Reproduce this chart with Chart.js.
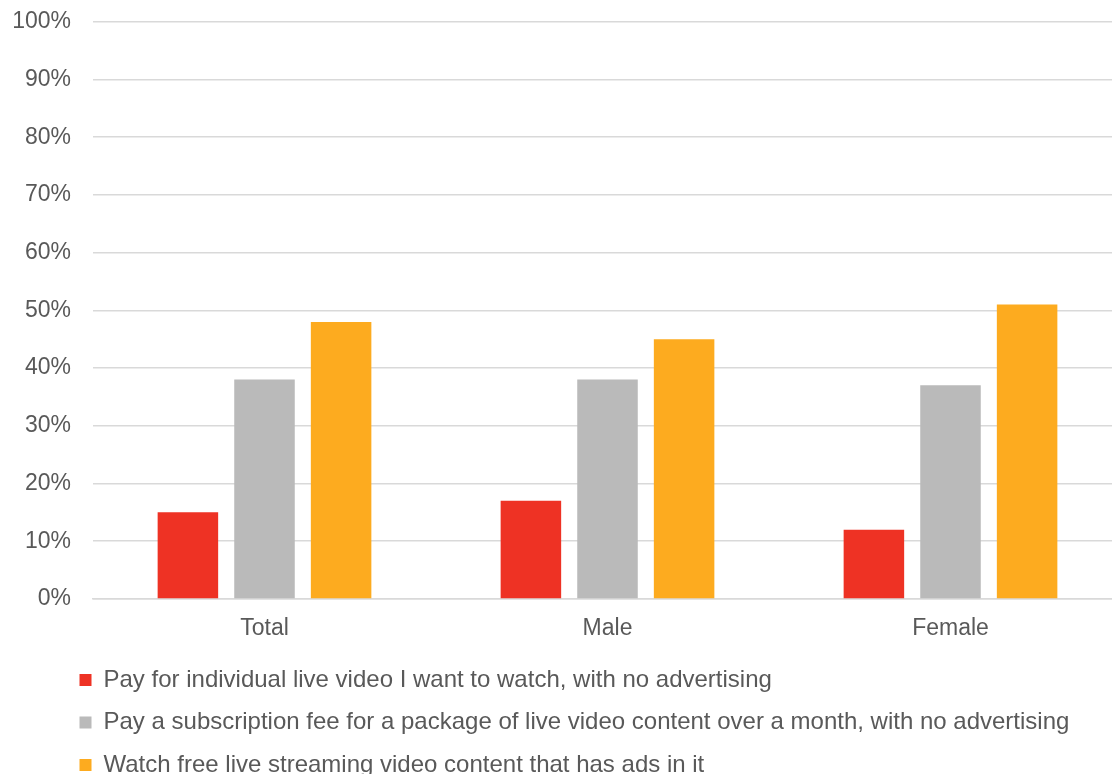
<!DOCTYPE html>
<html>
<head>
<meta charset="utf-8">
<script src="https://cdn.jsdelivr.net/npm/chart.js@4.4.1/dist/chart.umd.min.js"></script>
<style>
  html, body { margin: 0; padding: 0; background: #fff; overflow: hidden; }
  #wrap { position: relative; width: 1122px; height: 801px; margin-top: -14px; }
</style>
</head>
<body>
<div id="wrap"><canvas id="myBarChart"></canvas></div>
<script>
var categorias = ["Total", "Male", "Female"];
var seriesNombres = [
  "Pay for individual live video I want to watch, with no advertising",
  "Pay a subscription fee for a package of live video content over a month, with no advertising",
  "Watch free live streaming video content that has ads in it",
];
var pagoIndividual = [15, 17, 12];
var suscripcion = [38, 38, 37];
var gratisConAnuncios = [48, 45, 51];
var colores = ["#EE3224", "#BABABA", "#FDAB1F"];

var fuente = "'Liberation Sans', Arial, sans-serif";

// push the legend block right so it lines up under the axis labels
var legendOffset = {
  id: "legendOffset",
  afterLayout: function (chart) {
    chart.legend.left += 61;
  },
};

var ctx = document.getElementById("myBarChart");
new Chart(ctx, {
  type: "bar",
  data: {
    labels: categorias,
    datasets: [
      { label: seriesNombres[0], data: pagoIndividual, backgroundColor: colores[0] },
      { label: seriesNombres[1], data: suscripcion, backgroundColor: colores[1] },
      { label: seriesNombres[2], data: gratisConAnuncios, backgroundColor: colores[2] },
    ],
  },
  options: {
    responsive: true,
    maintainAspectRatio: false,
    animation: false,
    datasets: {
      bar: { categoryPercentage: 0.67, barPercentage: 0.79 },
    },
    layout: { padding: { top: 9, left: 0, right: 0, bottom: 0 } },
    scales: {
      x: {
        grid: { display: false, drawTicks: false },
        border: { display: true, color: "#D9D9D9", width: 1.5 },
        afterFit: function (scale) {
          scale.height -= 9;
        },
        ticks: {
          color: "#595959",
          font: { family: fuente, size: 23 },
          padding: 16,
        },
      },
      y: {
        min: 0,
        max: 100,
        grid: { color: "#D9D9D9", lineWidth: 1.5, drawTicks: false },
        border: { display: false },
        afterFit: function (scale) {
          scale.width = 93;
        },
        ticks: {
          stepSize: 10,
          color: "#595959",
          font: { family: fuente, size: 23 },
          padding: 22,
          callback: function (v) {
            return v + "%";
          },
        },
      },
    },
    plugins: {
      legend: {
        position: "bottom",
        align: "start",
        labels: {
          color: "#595959",
          font: { family: fuente, size: 24 },
          boxWidth: 12,
          boxHeight: 12,
          padding: 18.5,
        },
      },
      tooltip: { enabled: false },
    },
  },
  plugins: [legendOffset],
});
</script>
</body>
</html>
